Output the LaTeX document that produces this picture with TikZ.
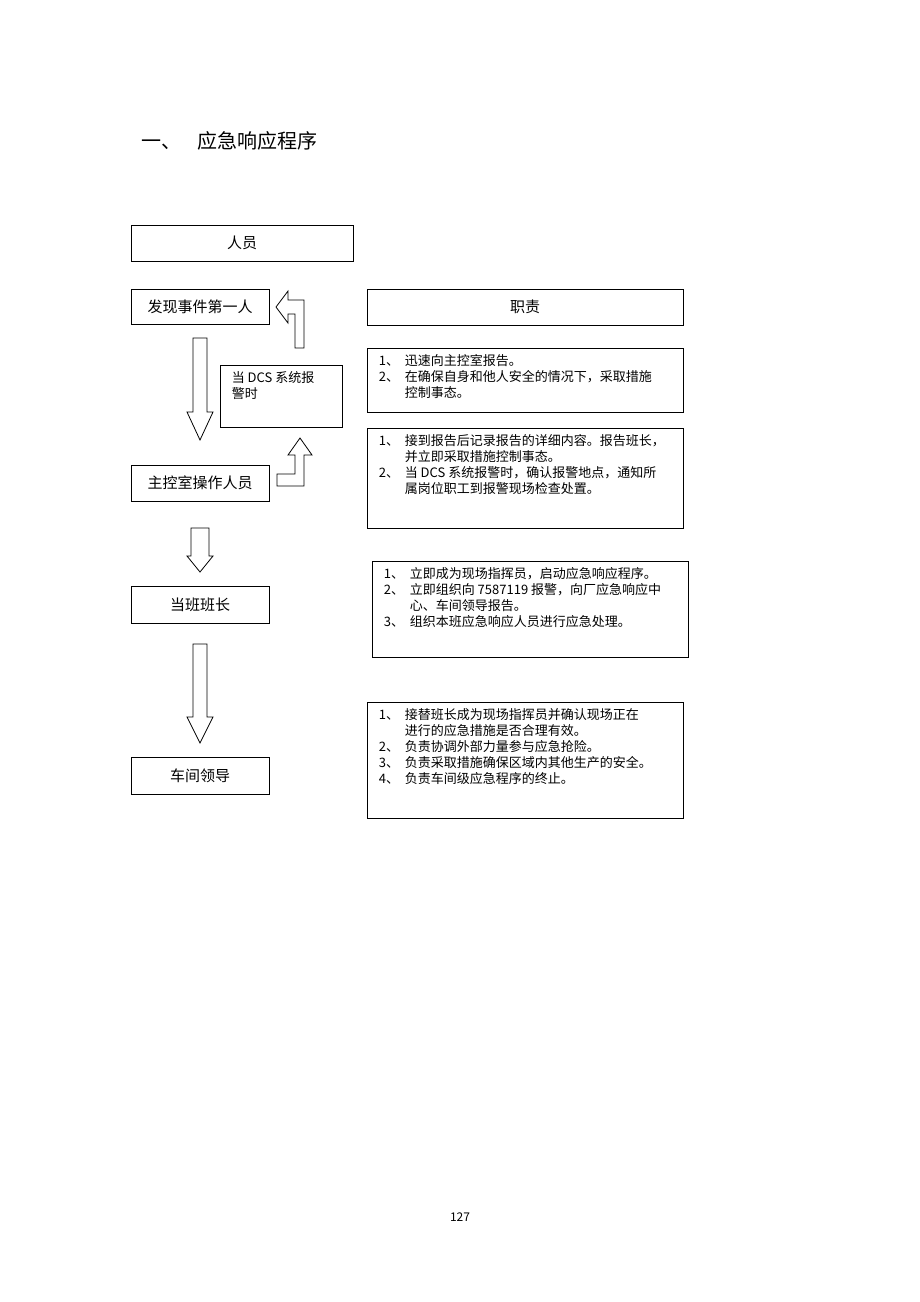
\documentclass[tikz,border=0pt]{standalone}
\usepackage{fontspec}
\setmainfont{Noto Sans CJK SC}
\usetikzlibrary{positioning}

\newcommand{\dutyitem}[2]{\makebox[26pt][l]{#1}#2}

\begin{document}
\begin{tikzpicture}[x=1pt,y=-1pt]

\tikzstyle{role} = [draw=black, line width=.8pt, inner sep=0pt, minimum width=138pt, minimum height=35pt, font=\fontsize{15}{18}\selectfont]
\tikzstyle{duty} = [draw=black, line width=.8pt, inner sep=0pt, minimum width=316pt]
\tikzstyle{dutytext} = [anchor=north west, inner sep=0pt, align=left, font=\fontsize{13}{16}\selectfont]
\tikzstyle{blockarrow} = [draw=black, line width=.8pt, fill=white, line join=miter]

\useasboundingbox (0,0) rectangle (920,1302);

% Title
\node (title) [anchor=west, font=\fontsize{20}{24}\selectfont] at (138,141) {一、\hspace{16pt}应急响应程序};

% Role column
\node (staff) [role, minimum width=222pt, minimum height=36pt] at (242,243) {人员};
\node (finder) [role] at (200,307) {发现事件第一人};
\node (operator) [role, minimum height=36pt] at (200,483) {主控室操作人员};
\node (leader) [role, minimum height=37pt] at (200,604.5) {当班班长};
\node (workshop) [role, minimum height=37pt] at (200,775.5) {车间领导};

% DCS alarm box
\node (dcs) [draw=black, line width=.8pt, minimum width=122pt, minimum height=62pt, inner sep=0pt] at (281,396) {};
\node (dcstext) [dutytext, align=left] at ([shift={(12,7)}]dcs.north west) {当 DCS 系统报\\警时};

% Duty column
\node (duties) [duty, minimum height=36pt, font=\fontsize{15}{18}\selectfont] at (525,307) {职责};
\node (duty1) [duty, minimum height=64pt] at (525,380) {};
\node (duty2) [duty, minimum height=100pt] at (525,478) {};
\node (duty3) [duty, minimum height=96pt] at (530,609) {};
\node (duty4) [duty, minimum height=116pt] at (525,760) {};

\node (text1) [dutytext] at ([shift={(12,7)}]duty1.north west) {%
\dutyitem{1、}{迅速向主控室报告。}\\
\dutyitem{2、}{在确保自身和他人安全的情况下，采取措施}\\
\dutyitem{}{控制事态。}};
\node (text2) [dutytext] at ([shift={(12,7)}]duty2.north west) {%
\dutyitem{1、}{接到报告后记录报告的详细内容。报告班长，}\\
\dutyitem{}{并立即采取措施控制事态。}\\
\dutyitem{2、}{当 DCS 系统报警时，确认报警地点，通知所}\\
\dutyitem{}{属岗位职工到报警现场检查处置。}};
\node (text3) [dutytext] at ([shift={(12,7)}]duty3.north west) {%
\dutyitem{1、}{立即成为现场指挥员，启动应急响应程序。}\\
\dutyitem{2、}{立即组织向 7587119 报警，向厂应急响应中}\\
\dutyitem{}{心、车间领导报告。}\\
\dutyitem{3、}{组织本班应急响应人员进行应急处理。}};
\node (text4) [dutytext] at ([shift={(12,7)}]duty4.north west) {%
\dutyitem{1、}{接替班长成为现场指挥员并确认现场正在}\\
\dutyitem{}{进行的应急措施是否合理有效。}\\
\dutyitem{2、}{负责协调外部力量参与应急抢险。}\\
\dutyitem{3、}{负责采取措施确保区域内其他生产的安全。}\\
\dutyitem{4、}{负责车间级应急程序的终止。}};

% Block arrows down
\draw[blockarrow] (193,338) -- (207,338) -- (207,412) -- (213,412) -- (200,440) -- (187,412) -- (193,412) -- cycle;
\draw[blockarrow] (191,528) -- (209,528) -- (209,556) -- (213,556) -- (200,572) -- (187,556) -- (191,556) -- cycle;
\draw[blockarrow] (193,644) -- (207,644) -- (207,717) -- (213,717) -- (200,743) -- (187,717) -- (193,717) -- cycle;

% Block arrows up
\draw[blockarrow] (295,348) -- (295,314) -- (288,314) -- (288,323) -- (276,307) -- (288,291) -- (288,300) -- (304,300) -- (304,348) -- cycle;
\draw[blockarrow] (277,474) -- (295,474) -- (295,455) -- (288,455) -- (300,438) -- (312,455) -- (304,455) -- (304,486) -- (277,486) -- cycle;

% Page number
\node (page) [font=\fontsize{12}{14}\selectfont] at (460,1217) {127};

\end{tikzpicture}
\end{document}
